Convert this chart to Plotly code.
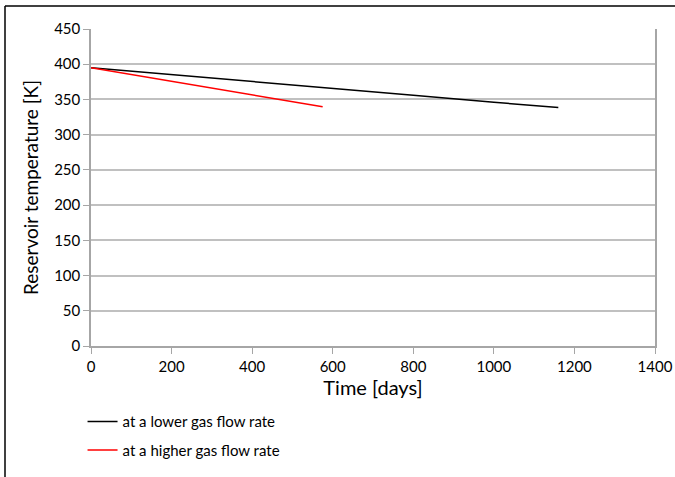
import plotly.graph_objects as go

days_low = [0, 200, 400, 600, 800, 1000, 1160]
temp_low = [395, 385.5, 375.5, 365.5, 356, 346, 338.5]
days_high = [0, 200, 400, 575]
temp_high = [395, 375.5, 357, 339.5]

names = ["at a lower gas flow rate", "at a higher gas flow rate"]
colors = ["#000000", "#ff0000"]

FONT = "Lato"
fig = go.Figure()
fig.add_trace(go.Scatter(x=days_low, y=temp_low, mode="lines", name=names[0],
                         line=dict(color=colors[0], width=1.5), legendgroup="a"))
fig.add_trace(go.Scatter(x=days_high, y=temp_high, mode="lines", name=names[1],
                         line=dict(color=colors[1], width=1.5), legendgroup="b"))

fig.update_layout(
    width=675, height=477,
    margin=dict(l=91, r=20, t=29, b=131, autoexpand=False),
    paper_bgcolor="white", plot_bgcolor="white",
    font=dict(family=FONT, size=15, color="#000000"),
    showlegend=True,
    legend=dict(x=-0.015, y=-0.187, xanchor="left", yanchor="top",
                orientation="v", tracegroupgap=6, font=dict(size=15),
                bgcolor="rgba(0,0,0,0)"),
    xaxis=dict(range=[0, 1400], tickvals=[0, 200, 400, 600, 800, 1000, 1200, 1400],
               automargin=False,
               showgrid=False, zeroline=False, showline=True, linecolor="#a6a6a6", linewidth=1.5,
               ticks="outside", ticklen=6, tickcolor="#a6a6a6", tickwidth=1,
               title=dict(text="Time [days]", font=dict(size=20), standoff=7)),
    yaxis=dict(range=[0, 450], tickvals=list(range(0, 451, 50)),
               automargin=False,
               showgrid=True, gridcolor="#c0c0c0", gridwidth=1.5, zeroline=False,
               showline=True, linecolor="#a6a6a6", linewidth=1.5, mirror=True,
               ticks="outside", ticklen=6, tickcolor="#a6a6a6", tickwidth=1,
               title=dict(text="Reservoir temperature [K]", font=dict(size=19), standoff=10)),
)

# outer frame (left and top edges)
fig.add_shape(type="line", xref="paper", yref="paper",
              x0=(5 - 91) / 564, x1=2, y0=(346 - 6) / 317, y1=(346 - 6) / 317,
              line=dict(color="black", width=1.5))
fig.add_shape(type="line", xref="paper", yref="paper",
              x0=(5 - 91) / 564, x1=(5 - 91) / 564, y0=(346 - 6) / 317, y1=-2,
              line=dict(color="black", width=1.5))

fig.write_html("out.html")
